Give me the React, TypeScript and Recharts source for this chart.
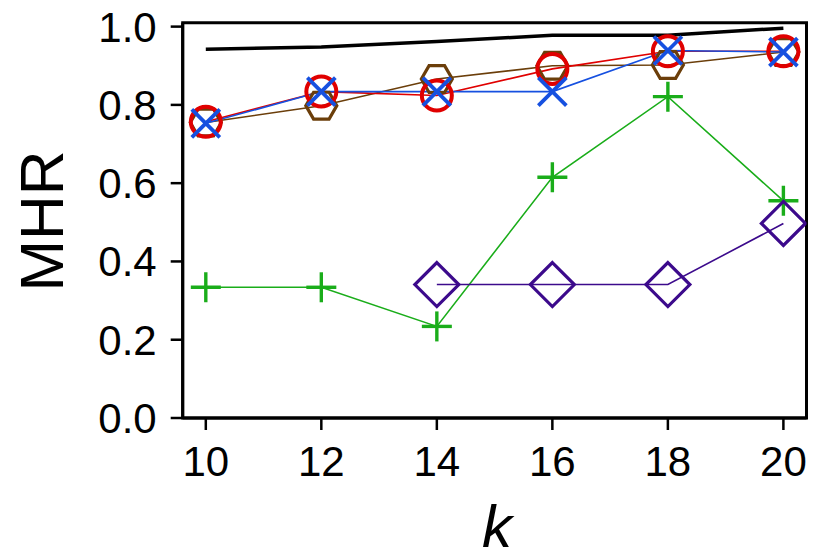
import { LineChart, Line, XAxis, YAxis, ReferenceArea } from 'recharts'

const kValues = [10, 12, 14, 16, 18, 20]
const upperBound = [0.942, 0.948, 0.962, 0.978, 0.978, 0.996]
const redCircle = [0.757, 0.834, 0.824, 0.892, 0.937, 0.937]
const blueCross = [0.753, 0.834, 0.834, 0.834, 0.939, 0.935]
const brownHex = [0.755, 0.798, 0.866, 0.9, 0.902, 0.935]
const greenPlus = [0.334, 0.334, 0.234, 0.615, 0.821, 0.555]
const purpleDiamond = [null, null, 0.341, 0.341, 0.341, 0.497]
const xTicks = [10, 12, 14, 16, 18, 20]
const yTicks = [0, 0.2, 0.4, 0.6, 0.8, 1.0]

const data = kValues.map((k, i) => ({
  k,
  upper: upperBound[i],
  red: redCircle[i],
  blue: blueCross[i],
  brown: brownHex[i],
  green: greenPlus[i],
  purple: purpleDiamond[i],
}))

const FONT = '"Liberation Sans", Arial, Helvetica, sans-serif'

const RED = '#e00000'
const BLUE = '#1650e0'
const BROWN = '#6b3e0a'
const GREEN = '#1aad1a'
const PURPLE = '#3c0a8c'

const circleDot = (p: any) => {
  if (p.cx == null || p.cy == null) return <g key={p.key} />
  return <circle key={p.key} cx={p.cx} cy={p.cy} r={15} fill="none" stroke={RED} strokeWidth={4} />
}

const hexDot = (p: any) => {
  if (p.cx == null || p.cy == null) return <g key={p.key} />
  const R = 15.5
  const pts = [0, 60, 120, 180, 240, 300]
    .map((a) => {
      const r = (a * Math.PI) / 180
      return `${p.cx + R * Math.cos(r)},${p.cy + R * Math.sin(r)}`
    })
    .join(' ')
  return <polygon key={p.key} points={pts} fill="none" stroke={BROWN} strokeWidth={3.2} />
}

const crossDot = (p: any) => {
  if (p.cx == null || p.cy == null) return <g key={p.key} />
  const s = 14
  return (
    <g key={p.key} stroke={BLUE} strokeWidth={3.8}>
      <line x1={p.cx - s} y1={p.cy - s} x2={p.cx + s} y2={p.cy + s} />
      <line x1={p.cx - s} y1={p.cy + s} x2={p.cx + s} y2={p.cy - s} />
    </g>
  )
}

const plusDot = (p: any) => {
  if (p.cx == null || p.cy == null) return <g key={p.key} />
  const s = 15
  return (
    <g key={p.key} stroke={GREEN} strokeWidth={3.4}>
      <line x1={p.cx - s} y1={p.cy} x2={p.cx + s} y2={p.cy} />
      <line x1={p.cx} y1={p.cy - s} x2={p.cx} y2={p.cy + s} />
    </g>
  )
}

const diamondDot = (p: any) => {
  if (p.cx == null || p.cy == null) return <g key={p.key} />
  const s = 22
  const pts = `${p.cx},${p.cy - s} ${p.cx + s},${p.cy} ${p.cx},${p.cy + s} ${p.cx - s},${p.cy}`
  return <polygon key={p.key} points={pts} fill="none" stroke={PURPLE} strokeWidth={3.2} />
}

export default function App() {
  return (
    <div style={{ position: 'absolute', left: 0, top: 0, width: 830, height: 554, background: '#fff' }}>
      <LineChart width={830} height={554} data={data} margin={{ top: 22.7, right: 23.5, bottom: 0, left: 0 }}>
        <XAxis
          dataKey="k"
          type="number"
          domain={[9.6, 20.4]}
          ticks={xTicks}
          allowDataOverflow
          height={136}
          tickSize={12}
          tickMargin={16}
          axisLine={{ stroke: '#000', strokeWidth: 3 }}
          tickLine={{ stroke: '#000', strokeWidth: 2.5 }}
          tick={{ fill: '#000', fontSize: 42, fontFamily: FONT }}
          label={{
            content: () => (
              <text x={497} y={547} textAnchor="middle" fontSize={60} fontStyle="italic" fontFamily={FONT} fill="#000">
                k
              </text>
            ),
          }}
        />
        <YAxis
          type="number"
          domain={[0, 1.01]}
          ticks={yTicks}
          allowDataOverflow
          width={182.7}
          tickSize={12}
          tickMargin={14}
          tickFormatter={(v: number) => v.toFixed(1)}
          axisLine={{ stroke: '#000', strokeWidth: 3 }}
          tickLine={{ stroke: '#000', strokeWidth: 2.5 }}
          tick={{ fill: '#000', fontSize: 42, fontFamily: FONT }}
          label={{
            content: () => (
              <text x={63} y={221} transform="rotate(-90, 63, 221)" textAnchor="middle" fontSize={62} fontFamily={FONT} fill="#000">
                MHR
              </text>
            ),
          }}
        />
        <Line dataKey="upper" stroke="#000" strokeWidth={3.5} dot={false} isAnimationActive={false} />
        <Line dataKey="green" stroke={GREEN} strokeWidth={1.6} dot={plusDot} isAnimationActive={false} />
        <Line dataKey="purple" stroke={PURPLE} strokeWidth={1.6} dot={diamondDot} isAnimationActive={false} />
        <Line dataKey="brown" stroke={BROWN} strokeWidth={1.6} dot={hexDot} isAnimationActive={false} />
        <Line dataKey="red" stroke={RED} strokeWidth={1.6} dot={circleDot} isAnimationActive={false} />
        <Line dataKey="blue" stroke={BLUE} strokeWidth={1.6} dot={crossDot} isAnimationActive={false} />
        <ReferenceArea x1={9.6} x2={20.4} y1={0} y2={1.01} fill="none" stroke="#000" strokeWidth={3} ifOverflow="visible" />
      </LineChart>
    </div>
  )
}
